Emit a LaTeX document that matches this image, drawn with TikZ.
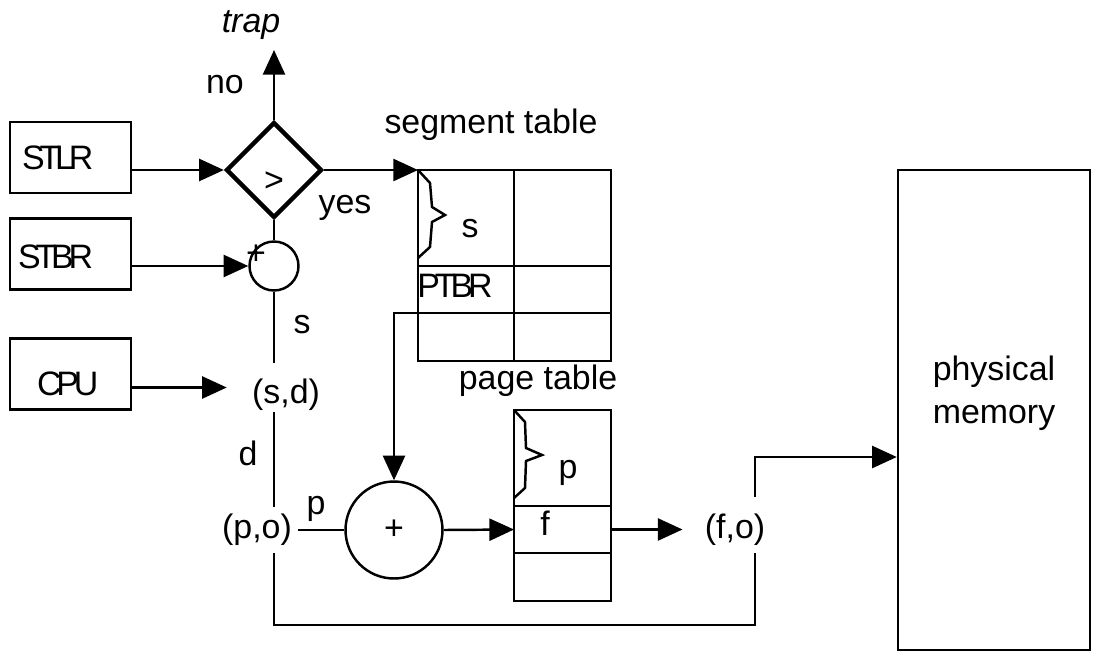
\documentclass[tikz,border=0pt]{standalone}
\usepackage{fontspec}
\setmainfont{Liberation Sans}
\usetikzlibrary{shapes.geometric,arrows.meta}
\newcommand{\fs}{\fontsize{19.3pt}{24.4pt}\selectfont}
\newcommand{\tightfont}{\addfontfeature{LetterSpace=-15}}
\begin{document}
\begin{tikzpicture}[x=0.02cm,y=-0.02cm,
  every node/.style={font=\fs},
  ln/.style={line width=1.4pt},
  arr/.style={line width=1.4pt,-{Triangle[length=14pt,width=12.5pt]}},
  regbox/.style={draw,line width=1.4pt,minimum width=2.42cm,minimum height=1.42cm,align=left},
  cell/.style={draw,line width=1.4pt,rectangle,inner sep=0pt,outer sep=0pt,anchor=north west},
  txt/.style={inner sep=0pt,anchor=base},
  addr/.style={inner ysep=0pt}]
\useasboundingbox (0,0) rectangle (1095,656);

% registers
\node[regbox,inner xsep=0.24cm,text width=1.94cm] (stlr) at (70.5,157.5) {\tightfont STLR};
\node[regbox,inner xsep=0.16cm,text width=2.10cm,text height=16pt,text depth=0pt] (stbr) at (70.5,254) {\tightfont STBR};
\node[regbox,inner xsep=0.54cm,text width=1.34cm,text height=24pt,text depth=0pt] (cpu) at (70.5,374) {\tightfont CPU};

% comparator and small adder
\node[diamond,draw,line width=2.5pt,minimum width=1.92cm,minimum height=1.92cm,inner sep=0pt,text height=24pt,text depth=0pt] (cmp) at (274,170) {>};
\node[circle,draw,line width=1.4pt,minimum size=0.98cm,inner sep=0pt] (sc) at (274,266) {};
\node[inner sep=0pt] (plusa) at (256,255) {+};

% trap
\coordinate (trapend) at (274,50);
\node[txt,font=\fs\itshape] (trap) at (251,32) {trap};
\node[txt] (no) at (225,93) {no};
\node[txt] (yes) at (345,213) {yes};

% logical addresses
\node[addr,inner xsep=0.5cm,text height=0.8cm,text depth=0.18cm] (sd) at (286,387.5) {(s,d)};
\node[addr,inner xsep=0.12cm,text height=0.62cm,text depth=0.3cm] (po) at (257,530) {(p,o)};
\node[addr,inner xsep=0.44cm,text height=0.82cm,text depth=0.3cm] (fo) at (735,525) {(f,o)};
\node[txt] (sline) at (302,333) {s};
\node[txt] (dline) at (248,465) {d};
\node[txt] (pline) at (316,514) {p};

% segment table
\node[txt] (segl) at (491,133) {segment table};
\node[cell,minimum width=1.92cm,minimum height=1.92cm] (s11) at (418,170) {};
\node[cell,minimum width=1.94cm,minimum height=1.92cm] (s12) at (514,170) {};
\node[cell,minimum width=1.92cm,minimum height=0.94cm] (s21) at (418,266) {};
\node[cell,minimum width=1.94cm,minimum height=0.94cm] (s22) at (514,266) {};
\node[cell,minimum width=1.92cm,minimum height=0.96cm] (s31) at (418,313) {};
\node[cell,minimum width=1.94cm,minimum height=0.96cm] (s32) at (514,313) {};
\draw[ln] (s11.north west) -- (430,183) -- (432,207) -- (445,215) -- (432,222) -- (430,247) -- (418,258);
\node[txt] (sseg) at (470,237) {s};
\node[inner sep=0pt,anchor=base west] (ptbr) at (417,297) {\tightfont PTBR};

% big adder
\node[circle,draw,line width=1.4pt,minimum size=1.94cm,inner sep=0pt] (bc) at (394,530) {+};

% page table
\node[txt] (pagel) at (538,389) {page table};
\node[cell,minimum width=1.94cm,minimum height=1.92cm] (p1) at (514,410) {};
\node[cell,minimum width=1.94cm,minimum height=0.94cm] (p2) at (514,506) {};
\node[cell,minimum width=1.94cm,minimum height=0.96cm] (p3) at (514,553) {};
\draw[ln] (p1.north west) -- (525,422) -- (526,448) -- (542,455) -- (526,461) -- (525,488) -- (514,498);
\node[txt] (ppage) at (568,478) {p};
\node[txt] (fpage) at (545,535) {f};

% physical memory
\node[draw,line width=1.4pt,minimum width=3.84cm,minimum height=9.6cm,align=center,text depth=23.4pt] (pm) at (994,410) {physical\\memory};

\coordinate (botR) at (755,625);
\coordinate (topR) at (755,457);

% connectors
\draw[arr] (stlr.east |- cmp.west) -- (cmp.west);
\draw[arr] (cmp.north) -- (trapend);
\draw[arr] (cmp.east) -- (s11.north west);
\draw[ln] (cmp.south) -- (sc.north);
\draw[arr] (stbr.east |- sc.west) -- (sc.west);
\draw[ln] (sc.south) -- (sd.north -| sc.south);
\draw[arr] (cpu.east |- sd.west) -- (sd.west);
\draw[ln] (sd.south -| sc.south) -- (po.north -| sc.south);
\draw[ln] (po.east) -- (bc.west);
\draw[ln] (po.south -| sc.south) |- (botR) -- (fo.south -| botR);
\draw[arr] (s31.north west) -| (bc.north);
\draw[arr] (bc.east) -- (p2.west);
\draw[arr] (p2.east) -- (fo.west |- p2.east);
\draw[arr] (fo.north -| topR) -- (topR) -- (pm.west |- topR);
\end{tikzpicture}
\end{document}
